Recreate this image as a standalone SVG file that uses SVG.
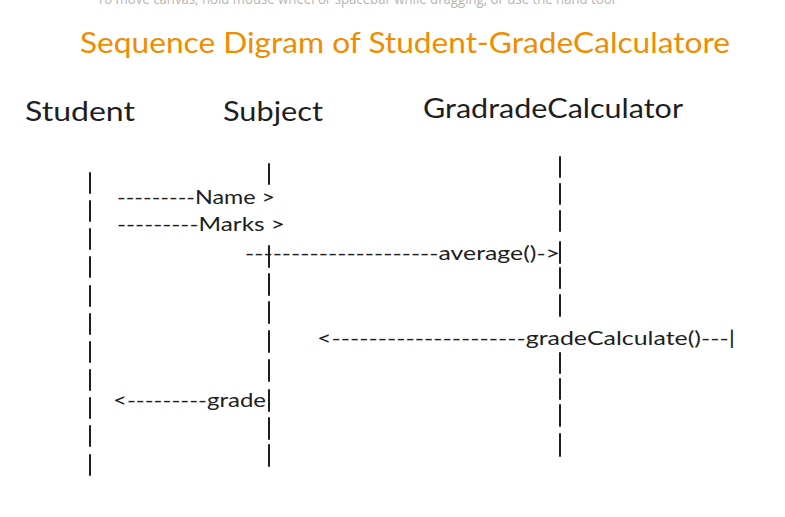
<svg xmlns="http://www.w3.org/2000/svg" width="785" height="517" viewBox="0 0 785 517">
<style>
.hint{font-family:"Open Sans","Liberation Sans",sans-serif;font-size:14px;fill:#b5b5b5}
.title{font-family:"Lato","Liberation Sans",sans-serif;font-size:28px;fill:#f08c00}
.head{font-family:"Lato","Liberation Sans",sans-serif;font-size:26px;fill:#1e1e1e}
.msg{font-family:"Lato","Liberation Sans",sans-serif;font-size:20px;fill:#1e1e1e}
.bar{stroke:#1e1e1e;stroke-width:2;stroke-linecap:round}
</style>
<rect width="785" height="517" fill="#ffffff"/>
<text class="hint" x="97" y="4" textLength="518" lengthAdjust="spacingAndGlyphs">To move canvas, hold mouse wheel or spacebar while dragging, or use the hand tool</text>
<text class="title" x="80" y="53" textLength="650" lengthAdjust="spacingAndGlyphs">Sequence Digram of Student-GradeCalculatore</text>

<g id="student">
<text class="head" x="25" y="121" textLength="110" lengthAdjust="spacingAndGlyphs">Student</text>
<g class="bar">
<line x1="90" y1="173" x2="90" y2="193"/>
<line x1="90" y1="201" x2="90" y2="221"/>
<line x1="90" y1="229" x2="90" y2="249"/>
<line x1="90" y1="257" x2="90" y2="277"/>
<line x1="90" y1="286" x2="90" y2="306"/>
<line x1="90" y1="314" x2="90" y2="334"/>
<line x1="90" y1="342" x2="90" y2="362"/>
<line x1="90" y1="370" x2="90" y2="390"/>
<line x1="90" y1="398" x2="90" y2="418"/>
<line x1="90" y1="426" x2="90" y2="446"/>
<line x1="90" y1="455" x2="90" y2="475"/>
</g>
</g>

<g id="subject">
<text class="head" x="223" y="121" textLength="100" lengthAdjust="spacingAndGlyphs">Subject</text>
<g class="bar">
<line x1="269" y1="164" x2="269" y2="184"/>
<line x1="269" y1="246" x2="269" y2="267"/>
<line x1="269" y1="274" x2="269" y2="295"/>
<line x1="269" y1="302" x2="269" y2="323"/>
<line x1="269" y1="331" x2="269" y2="352"/>
<line x1="269" y1="360" x2="269" y2="381"/>
<line x1="269" y1="390" x2="269" y2="411"/>
<line x1="269" y1="418" x2="269" y2="439"/>
<line x1="269" y1="445" x2="269" y2="466"/>
</g>
</g>

<g id="gradecalculator">
<text class="head" x="423" y="118" textLength="260" lengthAdjust="spacingAndGlyphs">GradradeCalculator</text>
<g class="bar">
<line x1="560" y1="157" x2="560" y2="177"/>
<line x1="560" y1="184" x2="560" y2="204"/>
<line x1="560" y1="211" x2="560" y2="231"/>
<line x1="560" y1="242" x2="560" y2="263"/>
<line x1="560" y1="268" x2="560" y2="288"/>
<line x1="560" y1="295" x2="560" y2="316"/>
<line x1="560" y1="353" x2="560" y2="373"/>
<line x1="560" y1="379" x2="560" y2="399"/>
<line x1="560" y1="405" x2="560" y2="426"/>
<line x1="560" y1="434" x2="560" y2="456"/>
</g>
</g>

<g id="connectors">
<text class="msg" x="117" y="204" textLength="158" lengthAdjust="spacingAndGlyphs">---------Name &gt;</text>
<text class="msg" x="117" y="231" textLength="168" lengthAdjust="spacingAndGlyphs">---------Marks &gt;</text>
<text class="msg" x="245" y="260" textLength="315" lengthAdjust="spacingAndGlyphs">---------------------average()-&gt;</text>
<text class="msg" x="317" y="345" textLength="418" lengthAdjust="spacingAndGlyphs">&lt;---------------------gradeCalculate()---|</text>
<text class="msg" x="113" y="407" textLength="153" lengthAdjust="spacingAndGlyphs">&lt;---------grade</text>
</g>
</svg>
